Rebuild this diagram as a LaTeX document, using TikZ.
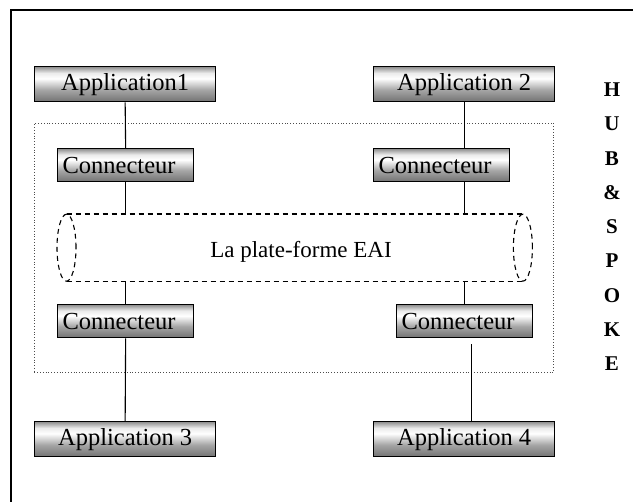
\documentclass[tikz,border=0pt]{standalone}
\usepackage{fontspec}
\setmainfont{Liberation Serif}
\usetikzlibrary{calc}

% gray bevel used to fill the application and connector boxes
\pgfdeclareverticalshading{bevel}{100bp}{%
  color(0bp)=(black!55); color(25bp)=(black!55); color(42bp)=(black!35);
  color(58bp)=(white); color(66bp)=(black!8); color(75bp)=(black!45);
  color(100bp)=(black!45)}

\tikzset{
  x=1pt, y=-1pt,
  boxtext/.style={font=\fontsize{24.5}{27}\selectfont},
  box/.style={draw=black, line width=1.3pt, shading=bevel, inner sep=0pt,
    boxtext, anchor=north west},
  appbox/.style={box, minimum width=181pt, minimum height=35pt},
  conbox/.style={box, minimum width=136pt, minimum height=33pt,
    text width=126pt, inner xsep=5pt, align=left},
  link/.style={line width=1.1pt},
  platform/.style={line width=1.1pt, dash pattern=on 5pt off 4pt},
  region/.style={dotted, line width=0.8pt, black!70},
  spoke/.style={font=\fontsize{21}{23}\bfseries\selectfont, anchor=center},
}

\begin{document}
\begin{tikzpicture}
  \useasboundingbox (0,0) rectangle (633,502);

  % page frame (top and left rules)
  \draw[line width=1.6pt] (633,10) -- (11,10) -- (11,502);

  % dotted outline of the hub
  \node[region, draw, minimum width=519pt, minimum height=249pt, anchor=north west,
        inner sep=0pt] (hub) at (34,123) {};

  % applications
  \node[appbox] (app1) at (34,66)  {Application1};
  \node[appbox] (app2) at (373,66) {Application 2};
  \node[appbox] (app3) at (34,421) {Application 3};
  \node[appbox] (app4) at (373,421) {Application 4};

  % connectors
  \node[conbox] (con1) at (57,148)  {Connecteur};
  \node[conbox] (con2) at (373,148) {Connecteur};
  \node[conbox] (con3) at (57,304)  {Connecteur};
  \node[conbox] (con4) at (396,304) {Connecteur};

  % the EAI platform: a dashed capsule with an ellipse at each end
  \node[inner sep=0pt, minimum width=475pt, minimum height=67pt, anchor=north west]
    (eai) at (57,214) {};
  \coordinate (eaiL) at ($(eai.west)+(9.5,0)$);
  \coordinate (eaiR) at ($(eai.east)+(-9.5,0)$);
  \draw[platform] (eaiL) ellipse [x radius=9.5pt, y radius=33.5pt];
  \draw[platform] (eaiR) ellipse [x radius=9.5pt, y radius=33.5pt];
  \draw[platform] (eaiL |- eai.north) -- (eaiR |- eai.north);
  \draw[platform] (eaiL |- eai.south) -- (eaiR |- eai.south);
  \node[font=\fontsize{23}{26}\selectfont] (eailabel) at (301,252) {La plate-forme EAI};

  % links
  \draw[link] (app1.south) -- (con1.north);
  \draw[link] (app2.south) -- (app2.south |- con2.north);
  \draw[link] (con1.south) -- (con1.south |- eai.north);
  \draw[link] (app2.south |- con2.south) -- (app2.south |- eai.north);
  \draw[link] (con3.north |- eai.south) -- (con3.north);
  \draw[link] (con4.north |- eai.south) -- (con4.north);
  \draw[link] (con3.south) -- (app3.north);
  \coordinate (drop) at ($(app4.north)+(7,0)$);
  \draw[link] (drop) -- ($(drop |- con4.south)+(0,6)$);

  % HUB & SPOKE, one letter per line
  \foreach \ch [count=\i from 0] in {H,U,B,\&,S,P,O,K,E}
    \node[spoke] (sp\i) at (612,{90+34.2*\i}) {\ch};
\end{tikzpicture}
\end{document}
